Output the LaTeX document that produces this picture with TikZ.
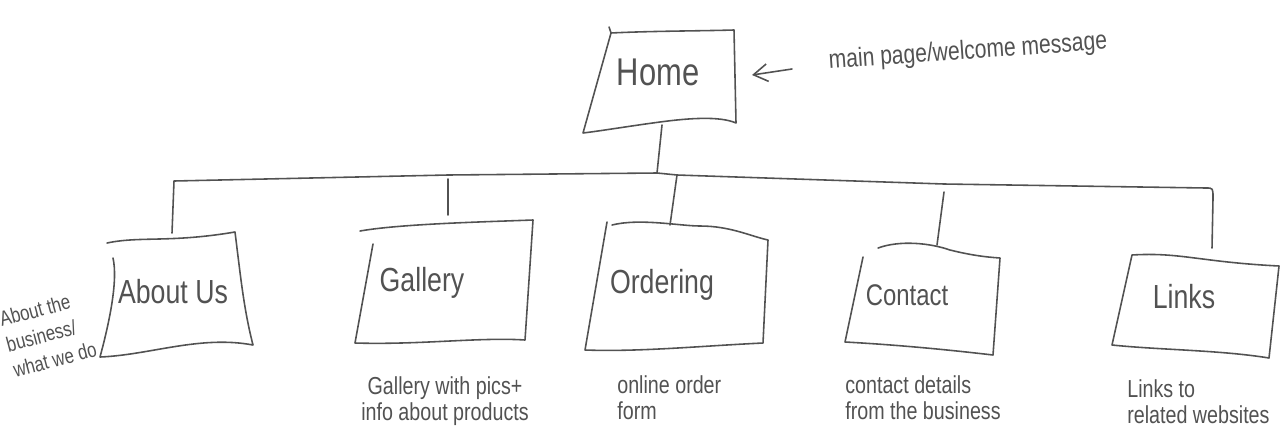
\documentclass[tikz,border=0pt]{standalone}
\usepackage{fontspec}
\newfontfamily\hand[FakeStretch=0.8]{Liberation Sans}
\usetikzlibrary{arrows.meta}
\definecolor{pencil}{gray}{0.32}

\begin{document}
\begin{tikzpicture}[x=0.02cm,y=-0.02cm,
	pen/.style={draw=pencil,line width=0.9pt,line cap=round,line join=round},
	title/.style={text=pencil,inner sep=0pt,font=\hand\fontsize{19}{21}\selectfont},
	note/.style={text=pencil,inner sep=0pt,align=left,font=\hand\fontsize{14}{15}\selectfont}]
		\useasboundingbox (0,0) rectangle (1287,430);
		% page names
		\node[title,font=\hand\fontsize{22}{24}\selectfont] (home) at (658,72) {Home};
		\node[title] (about) at (173,292) {About Us};
		\node[title] (gallery) at (422,283) {Gallery};
		\node[title] (ordering) at (662,285) {Ordering};
		\node[title,font=\hand\fontsize{17}{19}\selectfont] (contact) at (907,295) {Contact};
		\node[title] (links) at (1184,297) {Links};
		% boxes
		\draw[pen] (609,27) -- (611,33) .. controls (650,31) and (700,31) .. (734,30) -- (736,123)
			.. controls (720,116) and (690,118) .. (660,122) .. controls (630,126) and (600,131) .. (583,133) -- (611,33);
		\draw[pen] (107,243) .. controls (140,236) and (170,243) .. (235,232) .. controls (241,280) and (244,310) .. (253,345)
			.. controls (200,335) and (150,355) .. (100,357) .. controls (110,320) and (118,280) .. (113,258);
		\draw[pen] (360,231) .. controls (400,224) and (480,222) .. (533,220) -- (525,340)
			.. controls (480,337) and (420,345) .. (355,343) -- (373,244);
		\draw[pen] (612,225) .. controls (640,218) and (680,226) .. (700,226) .. controls (730,226) and (750,236) .. (768,240)
			-- (763,343) .. controls (700,346) and (640,352) .. (585,350) -- (607,222);
		\draw[pen] (878,248) .. controls (900,240) and (930,243) .. (950,250) .. controls (970,255) and (985,257) .. (1000,258)
			-- (993,355) .. controls (950,350) and (900,345) .. (845,342) -- (863,257);
		\draw[pen] (1132,255) .. controls (1180,252) and (1200,262) .. (1279,266) -- (1269,358)
			.. controls (1220,350) and (1160,350) .. (1112,345) -- (1132,255);
		% tree lines
		\coordinate (t1) at (174,181);
		\coordinate (t2) at (448,175);
		\coordinate (t3) at (657,173);
		\coordinate (t4) at (677,175);
		\coordinate (t5) at (944,184);
		\coordinate (t6) at (1206,188);
		\coordinate (h) at (662,125);
		\coordinate (b1) at (172,233);
		\coordinate (b2) at (448,215);
		\coordinate (b4) at (670,225);
		\coordinate (b5) at (937,245);
		\coordinate (b6) at (1212,248);
		\draw[pen] (h)--(t3);
		\draw[pen] (b1)--(t1)--(t2)--(t3)--(t4)--(t5)--(t6) .. controls (1213,188) .. (1213,198)--(b6);
		\draw[pen] (448,179)--(b2);
		\draw[pen] (t4)--(b4);
		\draw[pen] (944,192)--(b5);
		% notes
		\node[note,font=\hand\fontsize{15}{17}\selectfont,rotate=4] (n0) at (968,52) {main page/welcome message};
		\coordinate (a0) at (792,69);
		\coordinate (a1) at (752,75);
		\draw[pen,-{Straight Barb[length=8pt,width=10pt]}] (a0)--(a1);
		\node[note,font=\hand\fontsize{12}{15}\selectfont,rotate=15] (n1) at (48,334) {About the\\business/\\what we do};
		\node[note,align=center] (n2) at (445,401) {Gallery with pics+\\info about products};
		\node[note,anchor=west] (n3) at (617,398) {online order\\form};
		\node[note,anchor=west] (n4) at (845,398) {contact details\\from the business};
		\node[note,anchor=west] (n5) at (1127,402) {Links to\\related websites};
	\end{tikzpicture}
\end{document}
